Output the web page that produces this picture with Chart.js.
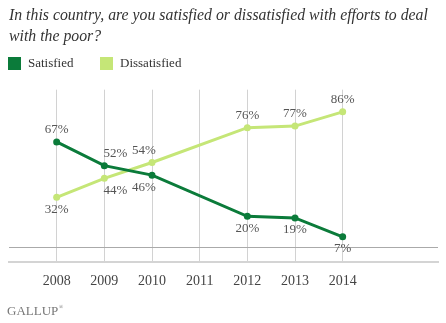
<!DOCTYPE html>
<html>
<head>
<meta charset="utf-8">
<script src="https://cdn.jsdelivr.net/npm/chart.js@4/dist/chart.umd.min.js"></script>
<style>
  body { margin: 0; background: #fff; }
  #wrap { width: 446px; height: 323px; position: relative; }
</style>
</head>
<body>
<div id="wrap"><canvas id="PoorChart"></canvas></div>
<script>
// survey years that have data (no 2011 poll)
const years = [2008, 2009, 2010, 2012, 2013, 2014];
const satisfied = [67, 52, 46, 20, 19, 7];
const dissatisfied = [32, 44, 54, 76, 77, 86];
const tickYears = [2008, 2009, 2010, 2011, 2012, 2013, 2014];

const darkGreen = '#0b7b3a';
const lightGreen = '#c5e677';
const serif = '"Liberation Serif", "DejaVu Serif", serif';

function toPoints(vals) {
    return vals.map((v, i) => ({ x: years[i], y: v }));
}

// percent labels, above for the higher series, below for the lower
const pctLabels = {
    id: 'pctLabels',
    afterDatasetsDraw(chart) {
        const ctx = chart.ctx;
        const nudge = { 2009: 11, 2010: -8 };
        ctx.save();
        ctx.font = '13px ' + serif;
        ctx.fillStyle = '#555';
        ctx.textAlign = 'center';
        ctx.textBaseline = 'middle';
        chart.data.datasets.forEach((ds, di) => {
            const other = chart.data.datasets[1 - di];
            chart.getDatasetMeta(di).data.forEach((pt, j) => {
                const v = ds.data[j].y;
                const up = v > other.data[j].y;
                const dx = nudge[ds.data[j].x] || 0;
                ctx.fillText(v + '%', pt.x + dx, pt.y + (up ? -12 : 12));
            });
        });
        ctx.restore();
    }
};

// square swatch legend and the Gallup mark
const extras = {
    id: 'extras',
    afterDraw(chart) {
        const ctx = chart.ctx;
        ctx.save();
        ctx.font = '13px ' + serif;
        ctx.textBaseline = 'middle';
        let x = 8;
        const y = 63.5;
        chart.data.datasets.forEach(ds => {
            ctx.fillStyle = ds.borderColor;
            ctx.fillRect(x, y - 6.5, 13, 13);
            ctx.fillStyle = '#333';
            ctx.fillText(ds.label, x + 20, y);
            x += 92;
        });
        ctx.fillStyle = '#777';
        ctx.font = '13px ' + serif;
        ctx.fillText('GALLUP', 7, 312);
        const w = ctx.measureText('GALLUP').width;
        ctx.font = '6px ' + serif;
        ctx.fillText('®', 7 + w + 0.5, 307);
        ctx.restore();
    }
};

new Chart(document.getElementById('PoorChart'), {
    type: 'line',
    data: {
        datasets: [
            {
                label: 'Satisfied',
                data: toPoints(satisfied),
                borderColor: darkGreen,
                backgroundColor: darkGreen,
                borderWidth: 3,
                pointRadius: 3.5,
                pointBorderWidth: 0,
                tension: 0
            },
            {
                label: 'Dissatisfied',
                data: toPoints(dissatisfied),
                borderColor: lightGreen,
                backgroundColor: lightGreen,
                borderWidth: 3,
                pointRadius: 3.5,
                pointBorderWidth: 0,
                tension: 0
            }
        ]
    },
    options: {
        responsive: true,
        maintainAspectRatio: false,
        animation: false,
        layout: { padding: { left: 9, right: 8, top: 0, bottom: 22 } },
        plugins: {
            legend: { display: false },
            tooltip: { enabled: false },
            title: {
                display: true,
                align: 'start',
                text: ['In this country, are you satisfied or dissatisfied with efforts to deal',
                       'with the poor?'],
                color: '#333',
                font: { family: serif, size: 15.8, style: 'italic', weight: 'normal', lineHeight: 1.35 },
                padding: { top: 5, bottom: 42 }
            }
        },
        scales: {
            x: {
                type: 'linear',
                min: 2007,
                max: 2016,
                afterBuildTicks: axis => { axis.ticks = tickYears.map(v => ({ value: v })); },
                ticks: {
                    callback: v => String(v),
                    color: '#444',
                    padding: 11,
                    maxRotation: 0,
                    autoSkip: false,
                    font: { family: serif, size: 14 }
                },
                grid: { color: '#d2d2d2', lineWidth: 1, drawTicks: false },
                border: { color: '#d4d4d4', width: 2 }
            },
            y: {
                min: -9,
                max: 100,
                afterBuildTicks: axis => { axis.ticks = [{ value: 0 }]; },
                ticks: { display: false },
                grid: { color: '#aaa', lineWidth: 1, drawTicks: false },
                border: { display: false }
            }
        }
    },
    plugins: [pctLabels, extras]
});
</script>
</body>
</html>
